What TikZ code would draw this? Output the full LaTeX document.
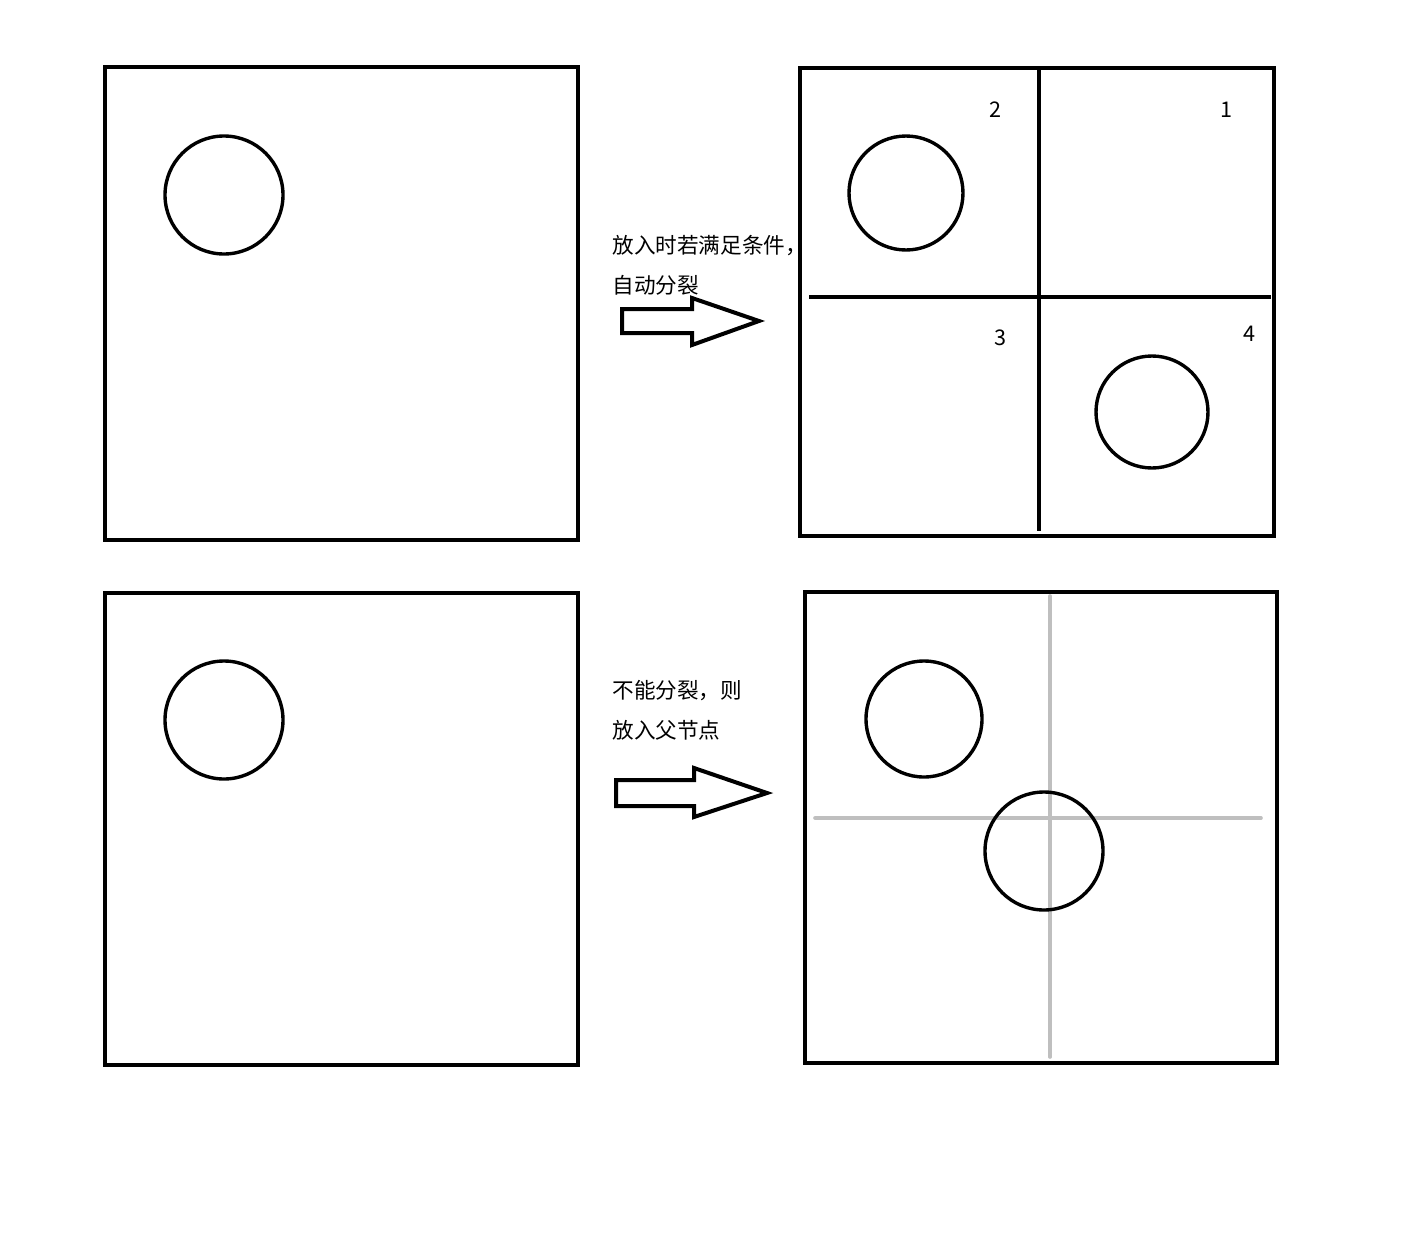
\documentclass[tikz,border=0pt]{standalone}
\usepackage{fontspec}
\setmainfont{Noto Sans CJK SC}
\usepackage{tikz}

\begin{document}
\begin{tikzpicture}
			[x=0.5pt,y=-0.5pt,line join=miter,
			%Styles
			box/.style={line width=2pt},
			split line/.style={line width=2pt},
			ghost line/.style={line width=1.8pt,lightgray,line cap=round},
			ball/.style={line width=1.7pt},
			fat arrow/.style={line width=2pt},
			note/.style={anchor=west,inner sep=0pt,font=\fontsize{10.8pt}{12pt}\selectfont},
			num/.style={inner sep=0pt,font=\fontsize{10.8pt}{12pt}\selectfont}
			]
			
			%Colors
			\colorlet{lightgray}{black!25}
			
			\useasboundingbox (0,0) rectangle (1414,1258);
			
			%The graphic
			%top row: before and after splitting
			\draw[box] (105,67) rectangle (578,540);
			\draw[ball] (224,195) circle[radius=59];
			
			\node[note] (noteA1) at (612,246) {放入时若满足条件，};
			\node[note] (noteA2) at (612,285) {自动分裂};
			\draw[fat arrow] (622,309) -- (692,309) -- (692,298) -- (759,321)
				-- (692,345) -- (692,333) -- (622,333) -- cycle;
			
			\draw[box] (800,68) rectangle (1274,536);
			\draw[split line] (1039,68) -- (1039,531);
			\draw[split line] (809,297) -- (1271,297);
			\draw[ball] (906,193) circle[radius=57];
			\draw[ball] (1152,412) circle[radius=56];
			\node[num] (q2) at (995,110) {2};
			\node[num] (q1) at (1226,110) {1};
			\node[num] (q3) at (1000,338) {3};
			\node[num] (q4) at (1249,334) {4};
			
			%bottom row: object kept in the parent node
			\draw[box] (105,593) rectangle (578,1065);
			\draw[ball] (224,720) circle[radius=59];
			
			\node[note] (noteB1) at (612,691) {不能分裂，则};
			\node[note] (noteB2) at (612,730) {放入父节点};
			\draw[fat arrow] (616,780) -- (694,780) -- (694,768) -- (767,793)
				-- (694,817) -- (694,806) -- (616,806) -- cycle;
			
			\draw[box] (805,592) rectangle (1277,1063);
			\draw[ghost line] (1050,596) -- (1050,1057);
			\draw[ghost line] (815,818) -- (1261,818);
			\draw[ball] (924,719) circle[radius=58];
			\draw[ball] (1044,851) circle[radius=59];
		\end{tikzpicture}
\end{document}
